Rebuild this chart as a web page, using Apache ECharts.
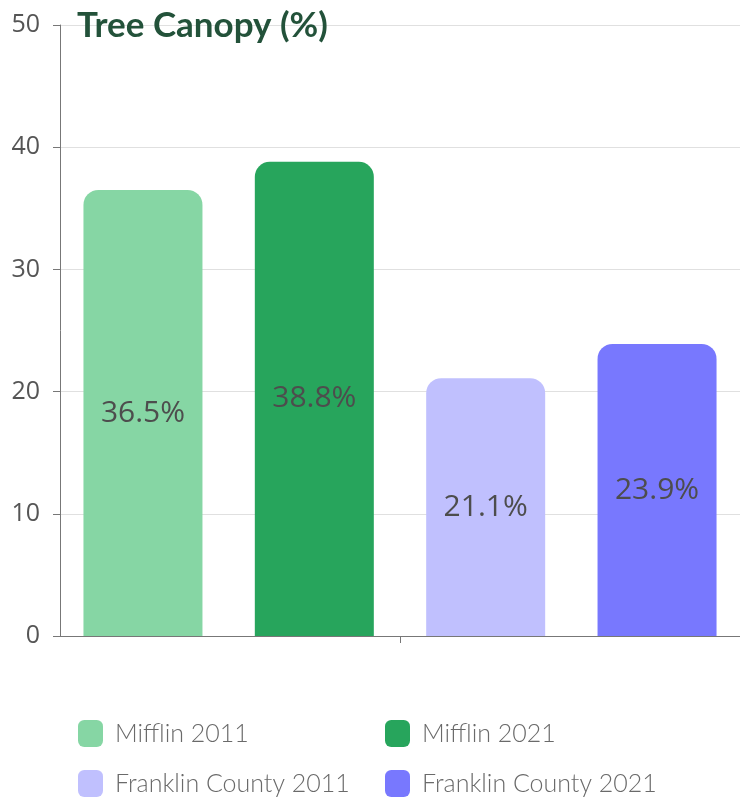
<!DOCTYPE html>
<html>
<head>
<meta charset="utf-8">
<script src="https://cdn.jsdelivr.net/npm/echarts@6/dist/echarts.min.js"></script>
<style>
  html, body { margin: 0; padding: 0; background: #fff; }
  #main { width: 740px; height: 797px; }
</style>
</head>
<body>
<div id="main"></div>
<script>
var seriesNames = ['Mifflin 2011', 'Mifflin 2021', 'Franklin County 2011', 'Franklin County 2021'];
var seriesValues = [36.5, 38.8, 21.1, 23.9];
var seriesColors = ['#86d6a4', '#27a55c', '#c0c0fe', '#7878fe'];
var categories = [''];

var dom = document.getElementById('main');
var myChart = echarts.init(dom, null, { renderer: 'canvas' });

var series = seriesNames.map(function (name, i) {
    return {
        name: name,
        type: 'bar',
        barWidth: 119,
        barGap: '44%',
        itemStyle: {
            color: seriesColors[i],
            borderRadius: [15, 15, 0, 0]
        },
        label: {
            show: true,
            position: 'inside',
            formatter: '{c}%',
            fontFamily: 'Open Sans',
            fontSize: 30,
            color: '#4d4d4d'
        },
        data: [seriesValues[i]]
    };
});

// one legend per item so they sit on a 2x2 grid
var legendPos = [[73, 715], [380, 715], [73, 765], [380, 765]];
var legends = seriesNames.map(function (name, i) {
    return {
        data: [name],
        left: legendPos[i][0],
        top: legendPos[i][1],
        itemWidth: 25,
        itemHeight: 27,
        icon: 'roundRect',
        textStyle: {
            fontFamily: 'Lato',
            fontWeight: 300,
            fontSize: 25,
            color: '#6a6a6a',
            padding: [0, 0, 0, 7]
        }
    };
});

var option = {
    animation: false,
    title: {
        text: 'Tree Canopy (%)',
        left: 72,
        top: 3,
        textStyle: {
            fontFamily: 'Lato',
            fontWeight: 'bold',
            fontSize: 35,
            color: '#23523a'
        }
    },
    legend: legends,
    grid: {
        left: 60,
        right: -4,
        top: 25,
        bottom: 161,
        containLabel: false
    },
    xAxis: {
        type: 'category',
        data: categories,
        axisLine: { lineStyle: { color: '#777' } },
        axisTick: { show: true, alignWithLabel: true, length: 7, lineStyle: { color: '#777' } },
        axisLabel: { show: false }
    },
    yAxis: {
        type: 'value',
        min: 0,
        max: 50,
        interval: 10,
        axisLine: { show: true, lineStyle: { color: '#777' } },
        axisTick: { show: true, length: 7, lineStyle: { color: '#777' } },
        axisLabel: {
            fontFamily: 'Open Sans',
            fontSize: 25,
            color: '#555',
            margin: 20
        },
        splitLine: { lineStyle: { color: '#e0e0e0' } }
    },
    series: series
};

myChart.setOption(option);
window.addEventListener('resize', myChart.resize);
</script>
</body>
</html>
